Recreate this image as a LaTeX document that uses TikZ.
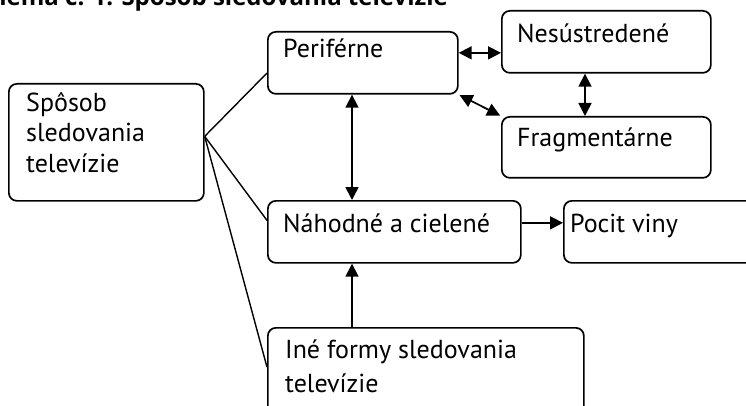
\documentclass[tikz,border=0pt]{standalone}
\usepackage{fontspec}
\setmainfont{PT Sans}
\newfontfamily\ttlfont{Open Sans}
\usetikzlibrary{arrows.meta,calc}
\begin{document}
\begin{tikzpicture}[x=1pt,y=-1pt,
 box/.style={draw, line width=1.7pt, rounded corners=8pt, anchor=north west, inner sep=0pt},
 txt/.style={anchor=base west, inner sep=0pt, align=left, font=\fontsize{26}{30.5}\selectfont},
 con/.style={line width=1.4pt},
 dar/.style={line width=1.7pt, {Triangle[length=13pt,width=13pt]}-{Triangle[length=13pt,width=13pt]}},
 sar/.style={line width=1.7pt, -{Triangle[length=13pt,width=13pt]}}]
\useasboundingbox (0,0) rectangle (746,406);
\clip (0,0) rectangle (746,406);
\node[anchor=base east, inner sep=0pt, font=\ttlfont\bfseries\fontsize{24}{28}\selectfont] (ttl) at (448,6) {Schéma č. 1: Spôsob sledovania televízie};
% boxes
\node[box, minimum width=195pt, minimum height=117pt] (spo) at (8,83) {};
\node[box, minimum width=190pt, minimum height=62pt] (per) at (267,31) {};
\node[box, minimum width=209pt, minimum height=62pt] (nes) at (501,10) {};
\node[box, minimum width=209pt, minimum height=61pt] (fra) at (501,116) {};
\node[box, minimum width=253pt, minimum height=62pt] (nah) at (267,200) {};
\node[box, minimum width=200pt, minimum height=62pt] (poc) at (563,200) {};
\node[box, minimum width=316pt, minimum height=120pt] (ine) at (267,327) {};
% texts (base = baseline of the last line)
\node[txt] (tspo) at (26,172) {Spôsob\\sledovania\\televízie};
\node[txt] (tper) at (283,58) {Periférne};
\node[txt] (tnes) at (517,43) {Nesústredené};
\node[txt] (tfra) at (517,147) {Fragmentárne};
\node[txt] (tnah) at (283,232) {Náhodné a cielené};
\node[txt] (tpoc) at (570,232) {Pocit viny};
\node[txt, font=\fontsize{26}{34}\selectfont] (tine) at (285,392) {Iné formy sledovania\\televízie};
% connectors
\coordinate (sx) at ([yshift=6pt]spo.east);
\draw[con] (sx) -- ($(per.south west)!0.34!(per.north west)$);
\draw[con] (sx) -- ($(nah.north west)!0.32!(nah.south west)$);
\draw[con] (sx) -- ($(ine.north west)!0.33!(ine.south west)$);
\coordinate (a1) at ([yshift=10pt]per.east);
\draw[dar] (a1) -- (a1 -| nes.west);
\coordinate (vx) at (352,0);
\coordinate (vx2) at (585,0);
\draw[dar] (per.south -| vx) -- (nah.north -| vx);
\draw[dar] (nes.south -| vx2) -- (fra.north -| vx2);
\draw[dar, shorten <=1pt, shorten >=1pt] (per.south east) -- (fra.north west);
\coordinate (a2) at ([yshift=9pt]nah.east);
\draw[sar] (a2) -- (a2 -| poc.west);
\draw[sar] (ine.north -| vx) -- (nah.south -| vx);
\end{tikzpicture}
\end{document}
